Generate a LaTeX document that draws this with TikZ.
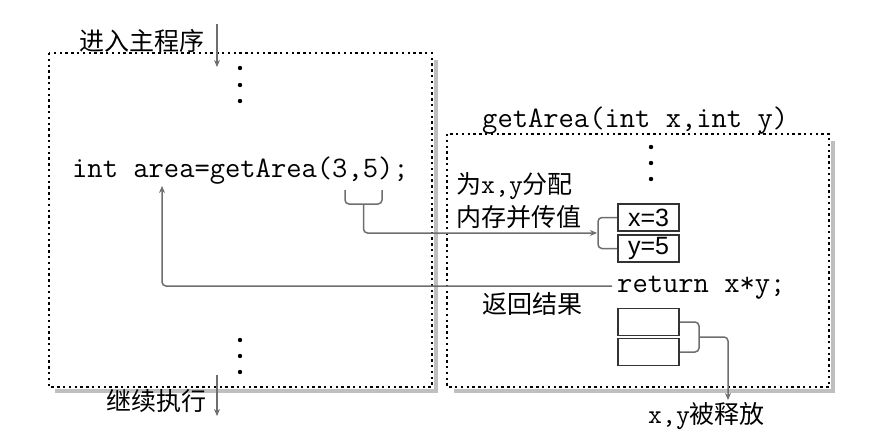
\documentclass[tikz,border=0pt]{standalone}
\usepackage{fontspec}
\newfontfamily\cjk{Noto Sans CJK SC}
\newfontfamily\cellfont{Liberation Sans}
\usetikzlibrary{arrows.meta}
\definecolor{conncol}{HTML}{6E6E6E}
\tikzset{
  mono/.style={font=\fontsize{29.7}{30}\selectfont\ttfamily, inner sep=0, anchor=base west},
  cjkt/.style={font=\fontsize{25}{25}\selectfont\cjk, inner sep=0, anchor=base west},
  frame/.style={draw=black, line width=2.4pt, dash pattern=on 2.4pt off 3.4pt},
  shade/.style={draw=black!25, line width=4pt},
  conn/.style={draw=conncol, line width=1.5pt, rounded corners=4pt},
  arr/.style={conn, -{Stealth[length=7pt,width=6pt]}},
  cell/.style={draw=black!80, line width=1.6pt, minimum width=61pt, minimum height=27pt, inner sep=0,
    font=\fontsize{25}{25}\selectfont\cellfont},
  vdot/.style={fill=black, circle, inner sep=0, minimum size=4.4pt}
}
\begin{document}
\begin{tikzpicture}[x=1pt,y=-1pt]
\useasboundingbox (0,0) rectangle (894,447);
% shadows
\draw[shade] (436,60) -- (436,391) -- (55,391);
\draw[shade] (833,141) -- (833,391) -- (454,391);
% frames
\draw[frame] (49,53) rectangle (432,387);
\draw[frame] (447,134) rectangle (829,387);

% left program
\node[cjkt] (enter) at (79,50) {进入主程序};
\coordinate (entTop) at (217,24);
\coordinate (entBot) at (217,67);
\draw[arr] (entTop) -- (entBot);
\foreach \y [count=\i] in {68,85,101} \node[vdot] (ld\i) at (240,\y) {};
\node[mono] (call) at (72,177) {int area=getArea(3,5);};
\foreach \y [count=\i] in {340,356,372} \node[vdot] (bd\i) at (240,\y) {};
\node[cjkt] (cont) at (106,410) {继续执行};
\coordinate (contTop) at (217,375);
\coordinate (contBot) at (217,416);
\draw[arr] (contTop) -- (contBot);

% right function
\node[mono] (sig) at (482,127) {getArea(int x,int y)};
\foreach \y [count=\i] in {147,163,179} \node[vdot] (rd\i) at (651,\y) {};
\node[cjkt] (alloc1) at (456,193) {为{\fontsize{27}{27}\selectfont\ttfamily x,y}分配};
\node[cjkt] (alloc2) at (456,226) {内存并传值};
\node[cell] (cx) at (648.5,217.5) {x=3};
\node[cell] (cy) at (648.5,248.5) {y=5};
\node[mono] (ret) at (617,292) {return x*y;};
\node[cjkt] (retlbl) at (482,313) {返回结果};
\node[cell] (ex) at (648.5,322) {};
\node[cell] (ey) at (648.5,352) {};
\node[cjkt] (free) at (648,423) {{\fontsize{27}{27}\selectfont\ttfamily x,y}被释放};

% parameter passing
\coordinate (b1) at (345,190);
\coordinate (b2) at (382,190);
\coordinate (bm) at (363.5,204);
\coordinate (inb) at (597,233);
\draw[conn] (b1) -- (345,204) -- (382,204) -- (b2);
\draw[arr] (bm) -- (363.5,233) -- (inb);
\draw[conn] (cx.west) -- (598,217.5) -- (598,248.5) -- (cy.west);

% return
\coordinate (retL) at (612,286);
\coordinate (areaPt) at (162,186);
\draw[arr] (retL) -- (162,286) -- (areaPt);

% release
\draw[conn] (ex.east) -- (699,322) -- (699,352) -- (ey.east);
\coordinate (relTip) at (728,400);
\draw[arr] (699,337) -- (728,337) -- (relTip);
\end{tikzpicture}
\end{document}
